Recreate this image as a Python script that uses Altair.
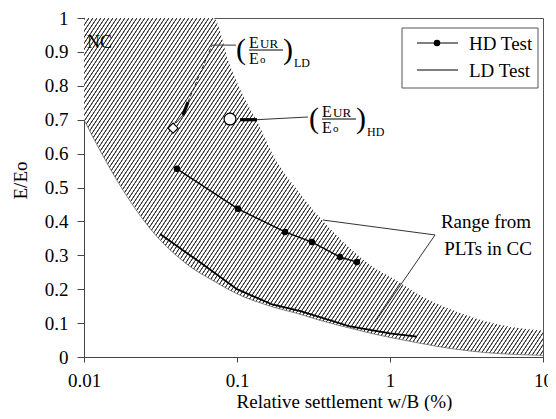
import math
import altair as alt
import pandas as pd

SERIF = "Liberation Serif"

# ---------------- data ----------------
band_x = [0.01, 0.0127, 0.02, 0.03, 0.04, 0.05, 0.07, 0.09, 0.11, 0.137, 0.17,
          0.25, 0.35, 0.55, 0.75, 1.16, 1.6, 2.5, 3.3, 5.2, 10]
band_upper = [1.0, 1.0, 1.0, 1.0, 1.0, 1.0, 1.0, 0.86, 0.77, 0.69, 0.60,
              0.49, 0.41, 0.32, 0.27, 0.22, 0.18, 0.14, 0.12, 0.095, 0.078]
band_lower = [0.70, 0.61, 0.46, 0.355, 0.30, 0.265, 0.225, 0.197, 0.178, 0.162, 0.148,
              0.128, 0.108, 0.085, 0.07, 0.052, 0.04, 0.025, 0.018, 0.01, 0.005]

hd_x = [0.0405, 0.1015, 0.206, 0.309, 0.471, 0.608]
hd_y = [0.555, 0.437, 0.369, 0.339, 0.295, 0.28]

ld_x = [0.0314, 0.057, 0.1, 0.17, 0.26, 0.55, 1.0, 1.5]
ld_y = [0.363, 0.28, 0.2, 0.155, 0.135, 0.09, 0.07, 0.06]

ld_ratio_x, ld_ratio_y = [0.0382], [0.675]
hd_ratio_x, hd_ratio_y = [0.090], [0.702]

# leader segments (x, y, x2, y2)
thin_x1 = [0.0399, 0.0687, 0.135, 0.365, 1.97]
thin_y1 = [0.690, 0.920, 0.700, 0.404, 0.360]
thin_x2 = [0.0444, 0.0985, 0.291, 1.97, 0.798]
thin_y2 = [0.714, 0.920, 0.708, 0.360, 0.103]
thick_x1 = [0.0444, 0.1047]
thick_y1 = [0.714, 0.700]
thick_x2 = [0.0478, 0.135]
thick_y2 = [0.752, 0.700]
dash_x1, dash_y1, dash_x2, dash_y2 = [0.0478], [0.752], [0.0687], [0.920]

x_ticks = [0.01, 0.1, 1, 10]
y_ticks = [0, 0.1, 0.2, 0.3, 0.4, 0.5, 0.6, 0.7, 0.8, 0.9, 1.0]

# ---------------- tables ----------------
band_df = pd.DataFrame({"x": band_x, "y": band_upper, "y2": band_lower})
hd_df = pd.DataFrame({"x": hd_x, "y": hd_y})
ld_df = pd.DataFrame({"x": ld_x, "y": ld_y})
thin_df = pd.DataFrame({"x": thin_x1, "y": thin_y1, "x2": thin_x2, "y2": thin_y2})
thick_df = pd.DataFrame({"x": thick_x1, "y": thick_y1, "x2": thick_x2, "y2": thick_y2})
dash_df = pd.DataFrame({"x": dash_x1, "y": dash_y1, "x2": dash_x2, "y2": dash_y2})

W, H = 459, 339

xscale = alt.Scale(type="log", domain=[0.01, 10])
yscale = alt.Scale(domain=[0, 1])
x_axis = alt.Axis(values=x_ticks, format="~g", tickSize=5, labelPadding=9,
                  labelFlush=False, labelOverlap=False, grid=False,
                  title="Relative settlement w/B (%)",
                  titleX=260, titleY=50, titleBaseline="alphabetic")
y_axis = alt.Axis(values=y_ticks, format="~g", tickSize=7, labelPadding=9,
                  labelOverlap=False, grid=False, title="E/Eo",
                  titleX=-58, titleY=162, titleBaseline="alphabetic", titleAngle=-90)


def X(f="x"):
    return alt.X(f + ":Q", scale=xscale, axis=x_axis)


def Y(f="y"):
    return alt.Y(f + ":Q", scale=yscale, axis=y_axis)


# hatch as a striped linear gradient (pixel-periodic: 4 px across, 6 px down)
theta = math.atan(1.5)
p = 4 * math.sin(theta)                      # stripe period normal to the stripes
Hb = H * (max(band_upper) - min(band_lower))  # height of the band's bounding box
a = math.sin(theta)
b = math.cos(theta) * Hb / W
N = math.ceil(W * (a + b) / p) + 1
s = N * p / (W * (a * a + b * b))
stops = []
for k in range(N):
    stops += [alt.GradientStop(offset=k / N, color="#ffffff"),
              alt.GradientStop(offset=(k + 0.14) / N, color="#353535"),
              alt.GradientStop(offset=(k + 0.32) / N, color="#353535"),
              alt.GradientStop(offset=(k + 0.46) / N, color="#ffffff")]
stops.append(alt.GradientStop(offset=1, color="#ffffff"))
hatch = alt.LinearGradient(gradient="linear", stops=stops, x1=0, y1=0, x2=s * a, y2=s * b)

band = alt.Chart(band_df).mark_area(fill=hatch, interpolate="monotone", clip=True).encode(
    x=X(), y=Y(), y2="y2:Q")
band_edge = alt.Chart(band_df).mark_line(color="#666", strokeWidth=0.8,
                                         interpolate="monotone", clip=True).encode(
    x=X(), y=Y("y2"))

ld_line = alt.Chart(ld_df).mark_line(color="black", strokeWidth=1.8).encode(x=X(), y=Y())
hd_line = alt.Chart(hd_df).mark_line(color="black", strokeWidth=1.4).encode(x=X(), y=Y())
hd_pts = alt.Chart(hd_df).mark_circle(color="black", size=42, opacity=1).encode(x=X(), y=Y())

thin = alt.Chart(thin_df).mark_rule(color="#333", strokeWidth=1).encode(
    x=X(), y=Y(), x2="x2:Q", y2="y2:Q")
thick = alt.Chart(thick_df).mark_rule(color="black", strokeWidth=3.2).encode(
    x=X(), y=Y(), x2="x2:Q", y2="y2:Q")
dash = alt.Chart(dash_df).mark_rule(color="#222", strokeWidth=1, strokeDash=[4, 2]).encode(
    x=X(), y=Y(), x2="x2:Q", y2="y2:Q")

ld_mark = alt.Chart(pd.DataFrame({"x": ld_ratio_x, "y": ld_ratio_y})).mark_point(
    shape="diamond", filled=True, fill="white", stroke="black", strokeWidth=1.2,
    size=100, opacity=1).encode(x=X(), y=Y())
hd_mark = alt.Chart(pd.DataFrame({"x": hd_ratio_x, "y": hd_ratio_y})).mark_point(
    shape="circle", filled=True, fill="white", stroke="black", strokeWidth=1.2,
    size=140, opacity=1).encode(x=X(), y=Y())

one = alt.Data(values=[{}])


def txt(t, x, y, size, align="left", baseline="alphabetic"):
    return alt.Chart(one).mark_text(text=t, align=align, baseline=baseline, fontSize=size,
                                    font=SERIF, color="black").encode(
        x=alt.value(x), y=alt.value(y))


def hrule(x1, x2, y, w=1, color="black"):
    return alt.Chart(one).mark_rule(color=color, strokeWidth=w).encode(
        x=alt.value(x1), x2=alt.value(x2), y=alt.value(y))


def formula(ox, oy, sub):
    return [
        txt("(", ox - 1, oy, 30, baseline="middle"),
        txt("E", ox + 12, oy - 2, 16),
        txt("UR", ox + 23, oy - 2, 13),
        hrule(ox + 12, ox + 46, oy),
        txt("E", ox + 12, oy + 14, 16),
        txt("o", ox + 23, oy + 13, 11),
        txt(")", ox + 46, oy, 30, baseline="middle"),
        txt(sub, ox + 57, oy + 17, 12),
    ]


annots = []
annots += formula(153, 32, "LD")
annots += formula(226, 101, "HD")
annots += [txt("NC", 3, 30, 18),
           txt("Range from", 402, 210, 19, align="center"),
           txt("PLTs in CC", 404, 237, 19, align="center")]

legend_box = alt.Chart(one).mark_rect(fill="white", stroke="#555", strokeWidth=1).encode(
    x=alt.value(318), x2=alt.value(454), y=alt.value(10), y2=alt.value(70))
legend = [legend_box,
          hrule(333, 374, 25, 1.2),
          alt.Chart(one).mark_circle(color="black", size=42, opacity=1).encode(
              x=alt.value(353), y=alt.value(25)),
          txt("HD Test", 385, 32, 19),
          hrule(333, 374, 52, 1.2),
          txt("LD Test", 385, 59, 19)]

chart = alt.layer(band, band_edge, ld_line, hd_line, hd_pts, thin, thick, dash,
                  ld_mark, hd_mark, *annots, *legend).properties(
    width=W, height=H,
    padding={"left": 76, "top": 10, "right": 5, "bottom": 54},
    autosize=alt.AutoSizeParams(type="none"),
).configure_view(stroke="#555", strokeWidth=1).configure_axis(
    labelFont=SERIF, titleFont=SERIF, labelFontSize=19, titleFontSize=19,
    labelColor="black", titleColor="black", titleFontWeight="normal",
    domainColor="#444", tickColor="#444",
)

chart.save("out.html", embed_options={"renderer": "svg", "actions": False})
